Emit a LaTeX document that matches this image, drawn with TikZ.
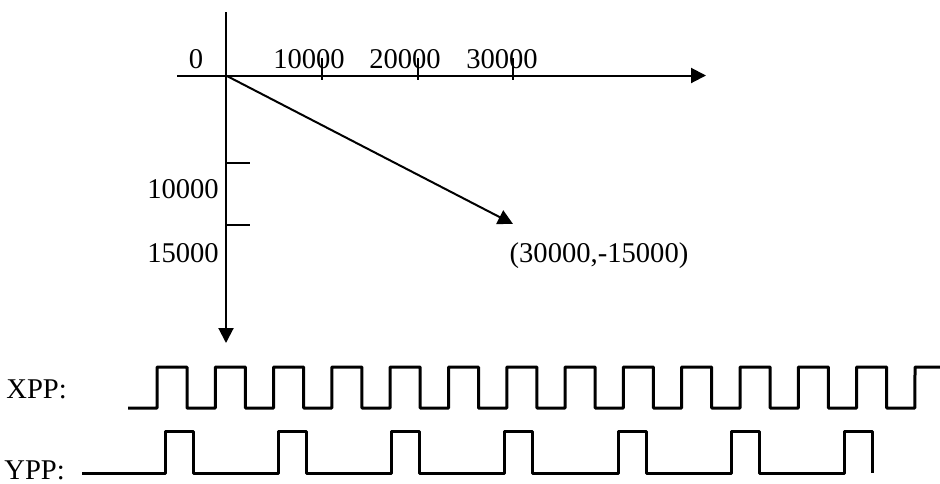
\documentclass[tikz,border=0pt]{standalone}
\usepackage{fontspec}
\setmainfont{Liberation Serif}
\usetikzlibrary{arrows.meta}

\begin{document}
\begin{tikzpicture}[
        x=0.5pt, y=-0.5pt,
        lbl/.style = {inner sep=0pt, font=\fontsize{14.3}{17}\selectfont},
        axis/.style = {line width=1pt, -{Triangle[length=7.5pt,width=7.5pt]}},
        tick/.style = {line width=1pt},
        wave/.style = {line width=1.5pt, line join=round}
        ]
        \useasboundingbox (0,0) rectangle (940,483);

        % axes
        \coordinate (O) at (226,75.5);
        \coordinate (xs) at (177,75.5);
        \coordinate (xe) at (706,75.5);
        \coordinate (ys) at (226,12);
        \coordinate (ye) at (226,343);
        \coordinate (P) at (513,224);

        \draw[axis] (xs) -- (xe);
        \draw[axis] (ys) -- (ye);
        \draw[axis] (O) -- (P);

        % scale marks
        \node[lbl, anchor=base] (x0) at (196,68) {0};
        \node[lbl, anchor=base] (x1) at (309,68) {10000};
        \node[lbl, anchor=base] (x2) at (405,68) {20000};
        \node[lbl, anchor=base] (x3) at (502,68) {30000};
        \foreach \x in {322,418,513}
            \draw[tick] (\x,58) -- (\x,80);

        \node[lbl, anchor=base] (y1) at (183,198) {10000};
        \node[lbl, anchor=base] (y2) at (183,262) {15000};
        \foreach \y in {163,225}
            \draw[tick] (226,\y) -- (250,\y);

        \node[lbl, anchor=base] (pt) at (599,262) {(30000,-15000)};

        % pulse trains
        \node[lbl, anchor=base west] (xpp) at (6,398) {XPP:};
        \node[lbl, anchor=base west] (ypp) at (4,479) {YPP:};

        \draw[wave] (128,408) -- (157,408)
            foreach \k in {0,...,12}{
                -- ({157+58.3*\k},367) -- ({187+58.3*\k},367)
                -- ({187+58.3*\k},408) -- ({215.3+58.3*\k},408)}
            -- (915,367) -- (940,367);

        \draw[wave] (82,473)
            foreach \k in {0,...,6}{
                -- ({165+113.3*\k},473) -- ({165+113.3*\k},431)
                -- ({193+113.3*\k},431) -- ({193+113.3*\k},473)};
\end{tikzpicture}
\end{document}
